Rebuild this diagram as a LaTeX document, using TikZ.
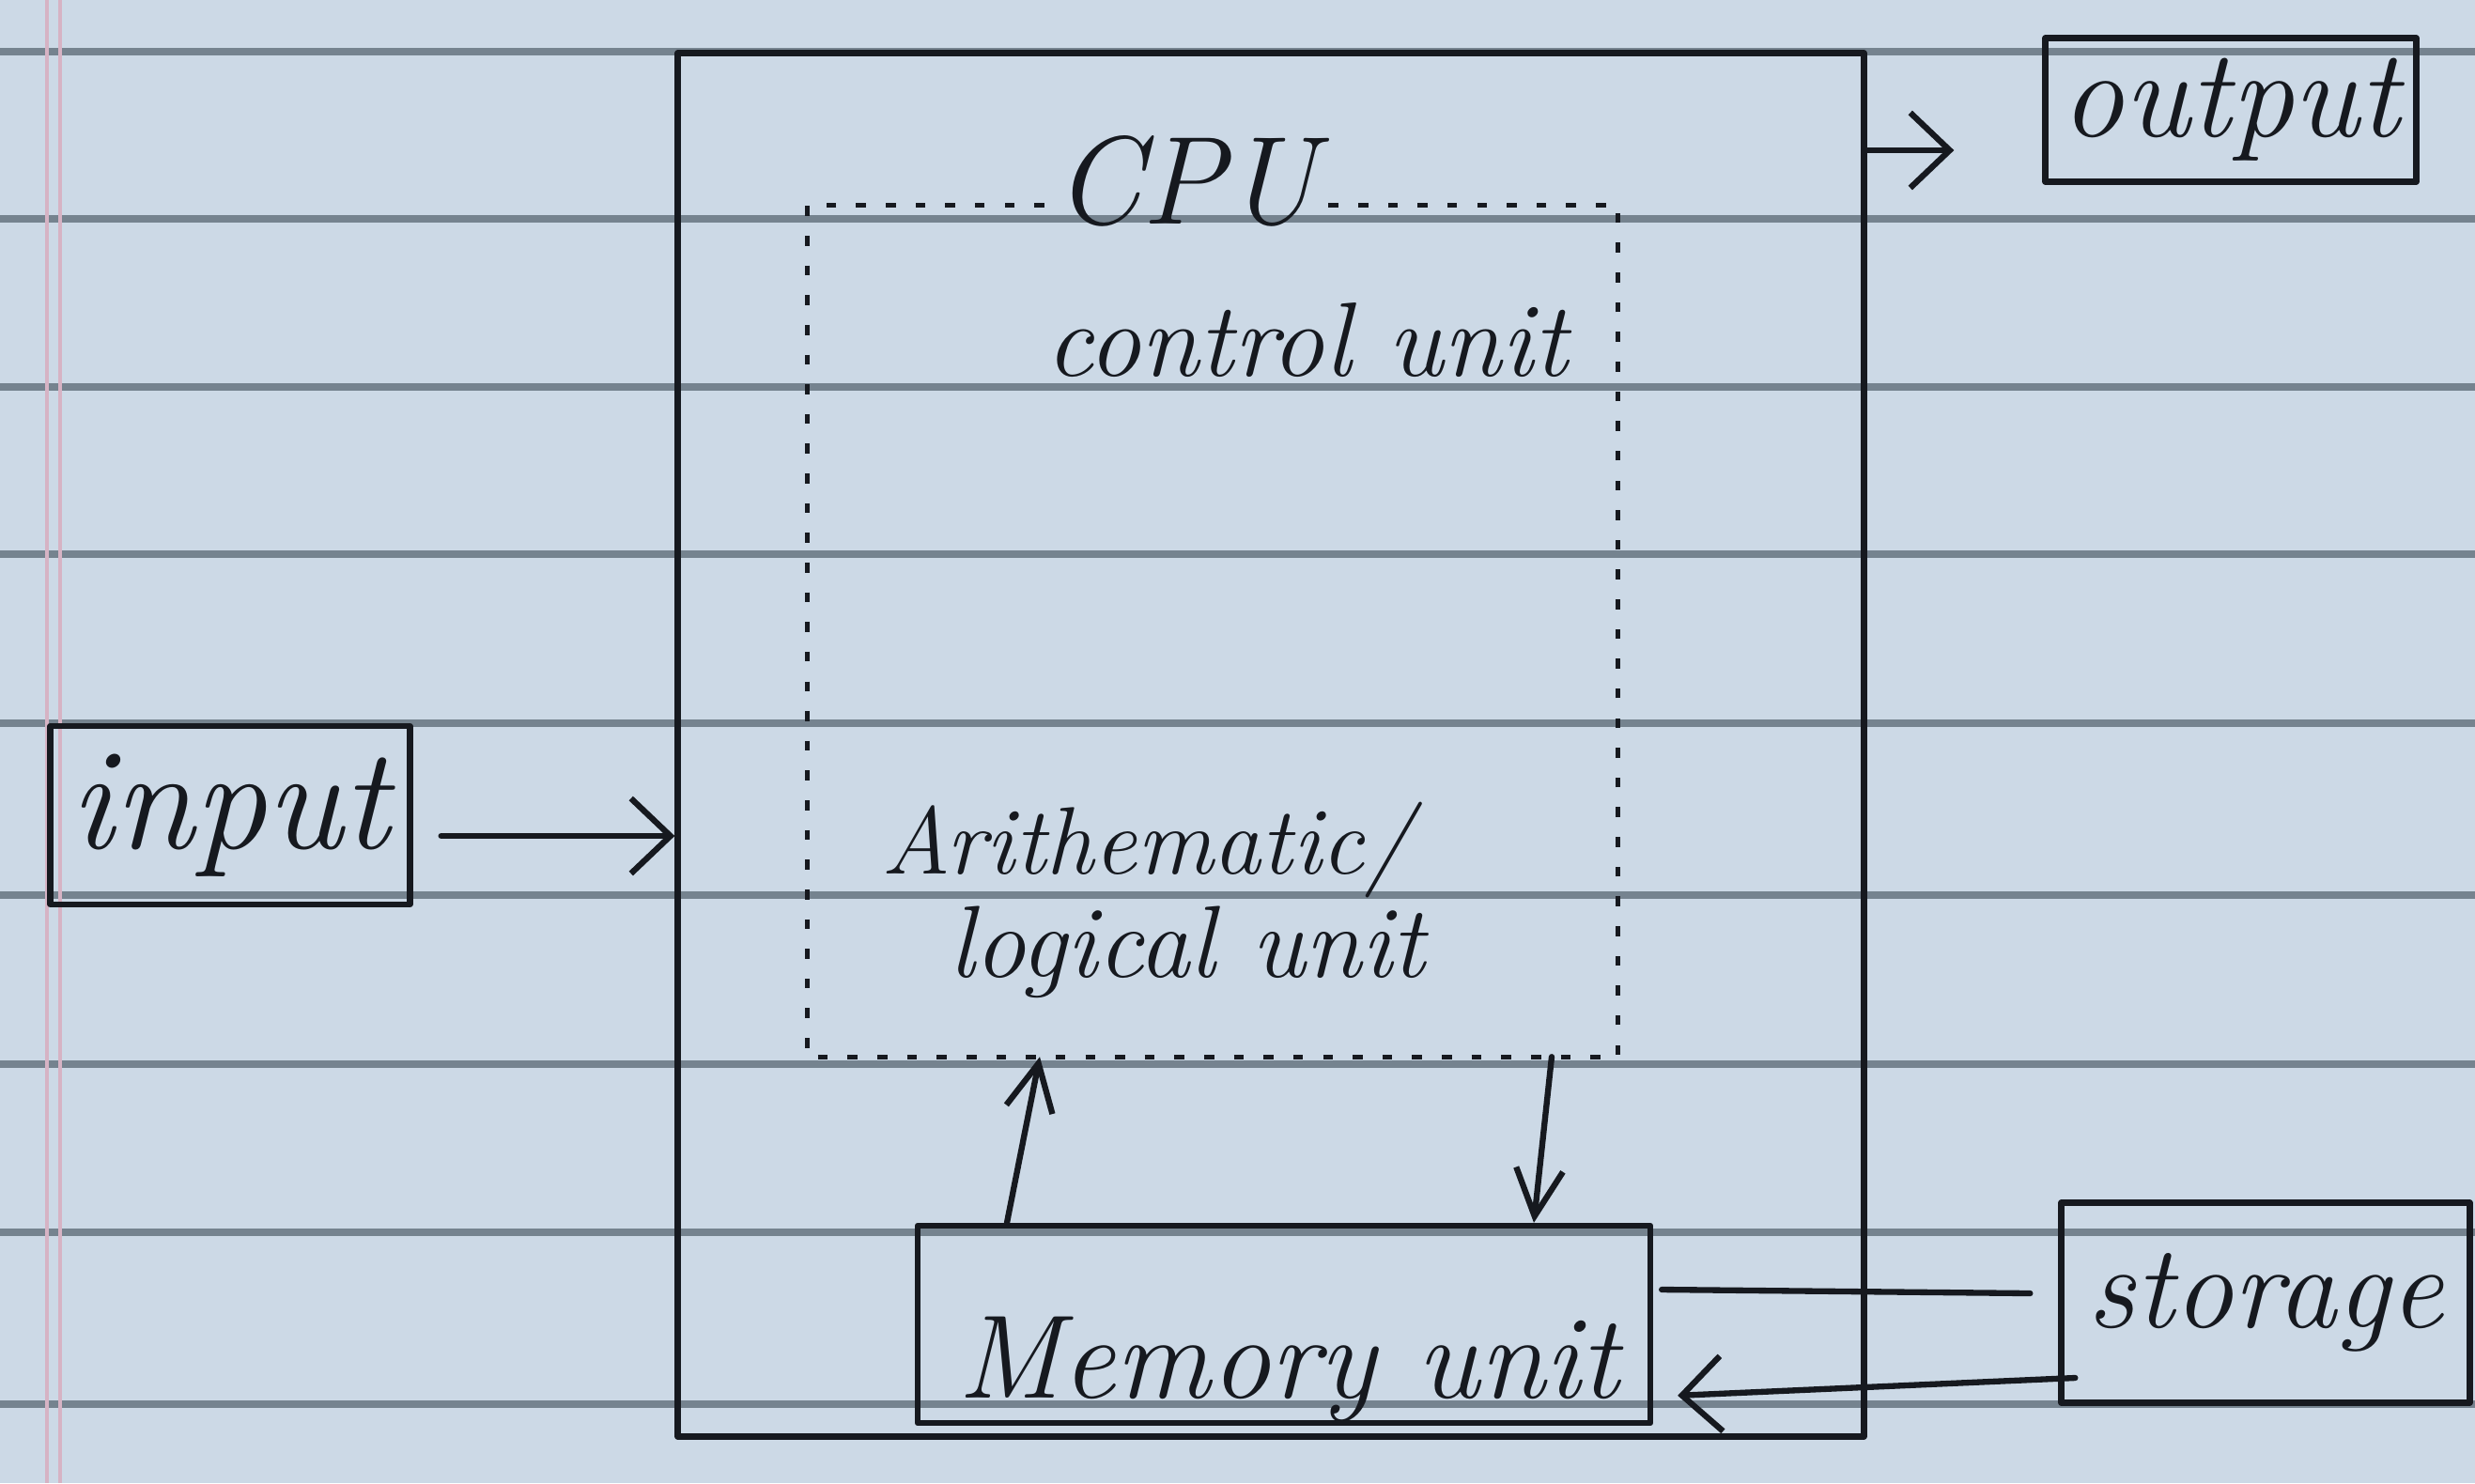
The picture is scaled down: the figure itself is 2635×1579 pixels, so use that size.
\documentclass[tikz,border=0pt]{standalone}
\usepackage{fontspec}
\usetikzlibrary{arrows.meta}
\definecolor{paper}{HTML}{CCD9E6}
\definecolor{ink}{HTML}{16191F}
\definecolor{rulec}{HTML}{75838F}
\definecolor{marg}{HTML}{D6B3C4}
\newcommand{\hwfont}[1]{\fontsize{#1}{#1}\selectfont\itshape}
\tikzset{
  pen/.style={draw=ink, line width=1.8pt, line cap=round, line join=round},
  boxnode/.style={pen, rectangle, inner sep=0pt, text=ink},
  plainnode/.style={inner sep=0pt, draw=none},
  hwtext/.style={text=ink, inner sep=1mm},
  arrH/.style={pen, -{Straight Barb[length=4.2mm,width=8mm,line width=1.8pt]}},
  arrV/.style={pen, -{Straight Barb[length=5mm,width=5mm,line width=1.8pt]}},
  dotbox/.style={draw=ink, line width=1.5pt, dash pattern=on 3pt off 6pt},
  ruleline/.style={draw=rulec, line width=2.2pt},
  margline/.style={draw=marg, line width=1.2pt}
}
\begin{document}
\begin{tikzpicture}[x=0.1mm, y=-0.1mm]
  % paper
  \fill[paper] (0,0) rectangle (2635,1579);
  \useasboundingbox (0,0) rectangle (2635,1579);
  \foreach \yy in {55,233,412,590,770,953,1133,1312,1495} {
    \draw[ruleline] (0,\yy) -- (2635,\yy);
  }
  \draw[margline] (50,0) -- (50,1579);
  \draw[margline] (64,0) -- (64,1579);

  % CPU outer box
  \node[boxnode, minimum width=126.3mm, minimum height=147.3mm] (cpu) at (1353,793) {};
  % inner dotted region
  \node[plainnode, minimum width=86.2mm, minimum height=90.5mm] (cu) at (1291,672) {};
  \node[hwtext, anchor=base, font=\hwfont{38pt}] (cpulbl) at (1262,238) {CPU};
  \draw[dotbox] (cpulbl.west |- cu.north) -- (cu.north west) -- (cu.south west)
        -- (cu.south east) -- (cu.north east) -- (cpulbl.east |- cu.north);
  \node[hwtext, anchor=base, font=\hwfont{32pt}] (cutxt) at (1391,400) {control unit};
  \node[hwtext, inner sep=0pt, anchor=base, font=\hwfont{29pt}] (alu1) at (1221,930) {Arithematic/};
  \node[hwtext, inner sep=0pt, anchor=base, font=\hwfont{31pt}] (alu2) at (1264,1040) {logical unit};

  % memory
  \node[boxnode, minimum width=78mm, minimum height=21mm] (mem) at (1367,1410) {};
  \node[hwtext, anchor=base, font=\hwfont{36pt}] (memtxt) at (1372,1488) {Memory unit};

  % input / output / storage
  \node[boxnode, minimum width=38.3mm, minimum height=19mm, font=\hwfont{44pt}] (inp) at (245,868) {input};
  \node[boxnode, minimum width=39.5mm, minimum height=15.3mm, font=\hwfont{38pt}] (out) at (2375,117) {output};
  \node[boxnode, minimum width=43.5mm, minimum height=21.3mm, font=\hwfont{36pt}] (stor) at (2412,1387) {storage};

  % connectors
  \draw[arrH, shorten <=3mm] ([yshift=-2.2mm]inp.east) -- ([yshift=-2.2mm]inp.east -| cpu.west);
  \draw[arrH, shorten >=9.4mm] ([yshift=-4.3mm]cpu.east |- out.west) -- ([yshift=-4.3mm]out.west);
  \draw[arrV] ([xshift=-29.5mm]mem.north) -- ([xshift=-18.4mm]cu.south);
  \draw[arrV] ([xshift=36.1mm]cu.south) -- ([xshift=26.6mm]mem.north);
  \draw[pen] ([xshift=-3mm,yshift=1mm]stor.west) -- ([xshift=0.9mm,yshift=3.7mm]mem.east);
  \draw[arrH, shorten >=2.6mm] ([xshift=1.8mm,yshift=-8mm]stor.west) -- ([yshift=-7.7mm]mem.east);
\end{tikzpicture}
\end{document}
